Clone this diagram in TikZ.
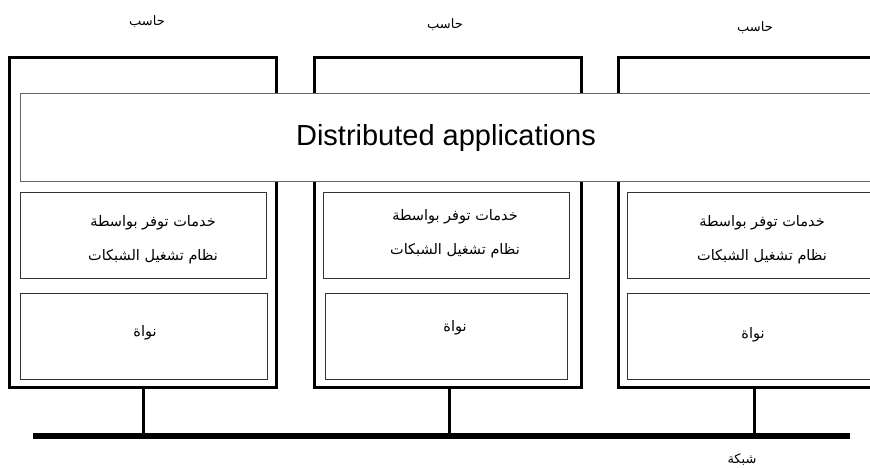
\documentclass[tikz,border=0pt]{standalone}
\usepackage{fontspec}
\setmainfont{Liberation Sans}
\newfontfamily\arabicfont[Script=Arabic]{DejaVu Sans}
\TeXXeTstate=1
\begin{document}
\begin{tikzpicture}[x=1pt,y=-1pt,
  computer/.style={draw=black,line width=3pt,rectangle,inner sep=0pt},
  layerbox/.style={draw=black!80,line width=0.9pt,rectangle,fill=white,inner sep=0pt},
  appbox/.style={draw=black!60,line width=1pt,rectangle,fill=white,inner sep=0pt},
  artext/.style={font=\arabicfont\fontsize{14.5}{34}\selectfont,align=center,inner sep=0pt},
  lbl/.style={font=\arabicfont\fontsize{13}{14}\selectfont,inner sep=0pt},
  drop/.style={line width=3pt},
  busline/.style={fill=black,rectangle,inner sep=0pt,minimum width=817pt,minimum height=6pt}]
\useasboundingbox (0,0) rectangle (870,468);
\clip (0,0) rectangle (870,468);
% computers
\node[computer,minimum width=267pt,minimum height=329pt] (c1) at (143,222.5) {};
\node[computer,minimum width=266.5pt,minimum height=329pt] (c2) at (447.75,222.5) {};
\node[computer,minimum width=273pt,minimum height=329pt] (c3) at (754.5,222.5) {};
% application layer
\node[appbox,minimum width=870pt,minimum height=87pt] (app) at (455.5,137.5) {};
\node[font=\fontsize{29}{34}\selectfont,inner sep=0pt] (apptext) at (446,138) {Distributed applications};
% services boxes
\node[layerbox,minimum width=245.5pt,minimum height=86pt] (s1) at (143.3,235) {};
\node[layerbox,minimum width=246pt,minimum height=86pt] (s2) at (446,235) {};
\node[layerbox,minimum width=260pt,minimum height=86pt] (s3) at (757,235) {};
% kernel boxes
\node[layerbox,minimum width=246.5pt,minimum height=86pt] (k1) at (143.8,336) {};
\node[layerbox,minimum width=242pt,minimum height=86pt] (k2) at (446,336) {};
\node[layerbox,minimum width=260pt,minimum height=86pt] (k3) at (757,336) {};
% texts
\node[artext] (t1) at (153,240) {\beginR خدمات توفر بواسطة\endR\\\beginR نظام تشغيل الشبكات\endR};
\node[artext] (t2) at (455,233.5) {\beginR خدمات توفر بواسطة\endR\\\beginR نظام تشغيل الشبكات\endR};
\node[artext] (t3) at (762,240) {\beginR خدمات توفر بواسطة\endR\\\beginR نظام تشغيل الشبكات\endR};
\node[artext] (n1) at (145,333) {\beginR نواة\endR};
\node[artext] (n2) at (455,328) {\beginR نواة\endR};
\node[artext] (n3) at (753,335) {\beginR نواة\endR};
% labels
\node[lbl] (l1) at (147,22) {\beginR حاسب\endR};
\node[lbl] (l2) at (445,25) {\beginR حاسب\endR};
\node[lbl] (l3) at (755,28) {\beginR حاسب\endR};
% bus
\node[busline] (bus) at (441.5,436) {};
\node[lbl] (net) at (742,460) {\beginR شبكة\endR};
% drops
\draw[drop] (c1.south) -- (c1.south |- bus.north);
\draw[drop] ([xshift=2pt]c2.south) -- ([xshift=2pt]c2.south |- bus.north);
\draw[drop] (c3.south) -- (c3.south |- bus.north);
\end{tikzpicture}
\end{document}
